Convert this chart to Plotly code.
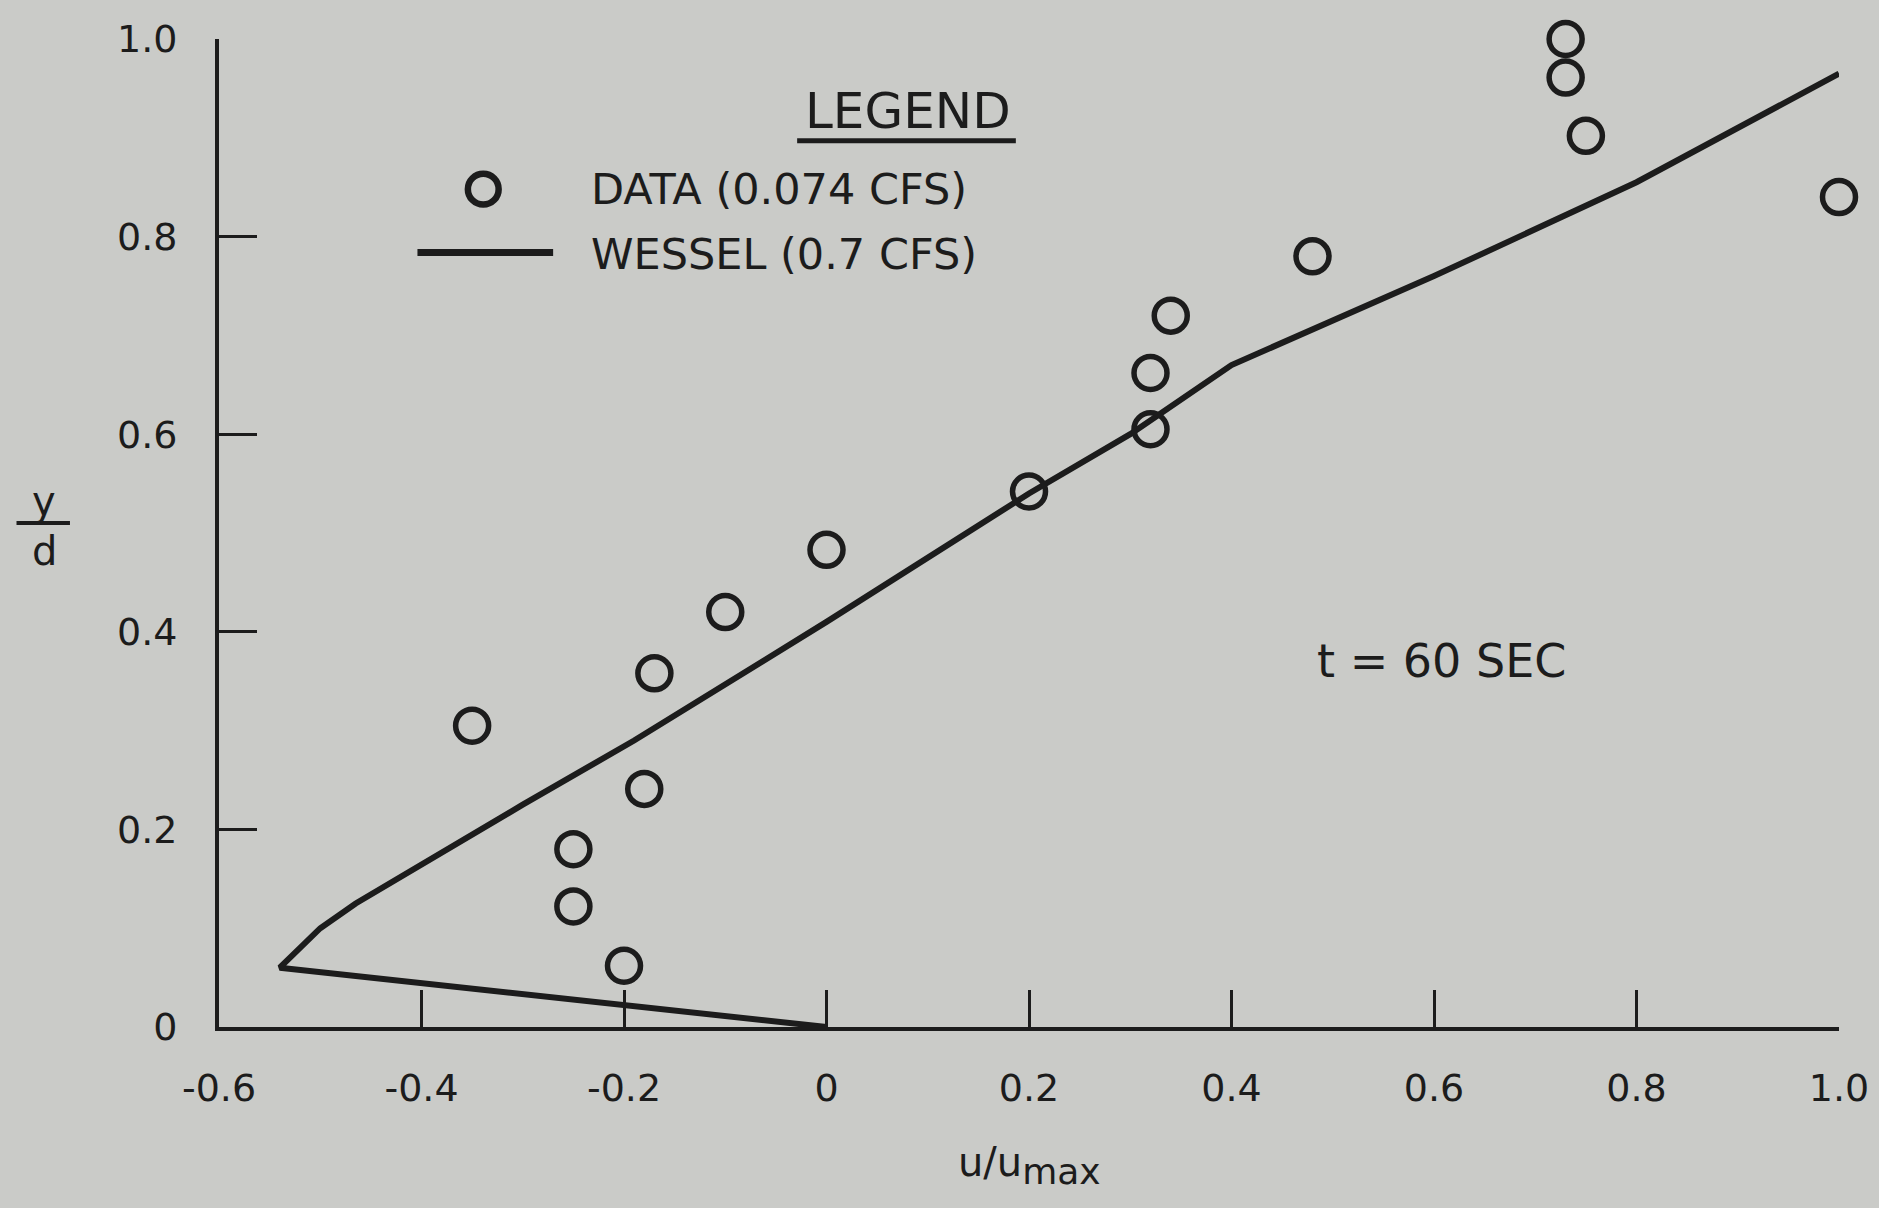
import plotly.graph_objects as go

# measured data, 0.074 cfs
u_data = [-0.35, -0.25, -0.25, -0.20, -0.18, -0.17, -0.10, 0.0, 0.20,
          0.32, 0.32, 0.34, 0.48, 0.73, 0.73, 0.75, 1.0]
yd_data = [0.305, 0.18, 0.122, 0.062, 0.241, 0.358, 0.42, 0.483, 0.542,
           0.605, 0.662, 0.72, 0.78, 1.0, 0.961, 0.902, 0.84]

# Wessel profile, 0.7 cfs
u_wessel = [0.0, -0.54, -0.50, -0.465, -0.30, -0.19, 0.0, 0.20, 0.30, 0.40, 0.60, 0.80, 1.0]
yd_wessel = [0.0, 0.06, 0.10, 0.125, 0.225, 0.29, 0.41, 0.54, 0.60, 0.67, 0.76, 0.855, 0.965]

x_ticks = [-0.6, -0.4, -0.2, 0, 0.2, 0.4, 0.6, 0.8, 1.0]
x_ticktext = ["-0.6", "-0.4", "-0.2", "0", "0.2", "0.4", "0.6", "0.8", "1.0"]
y_ticks = [0, 0.2, 0.4, 0.6, 0.8, 1.0]
y_ticktext = ["0", "0.2", "0.4", "0.6", "0.8", "1.0"]

ink = "#1c1c1c"
paper = "#cacbc8"
font = "DejaVu Sans, sans-serif"


def txt(size):
    return dict(size=size, color=ink, family=font)


fig = go.Figure()
fig.add_trace(go.Scatter(x=u_wessel, y=yd_wessel, mode="lines",
                         line=dict(color=ink, width=6), cliponaxis=False,
                         showlegend=False))
fig.add_trace(go.Scatter(x=u_data, y=yd_data, mode="markers",
                         marker=dict(symbol="circle-open", size=33, color=ink,
                                     line=dict(color=ink, width=5.5)),
                         cliponaxis=False, showlegend=False))

# hand-drawn legend like the original
fig.add_annotation(x=0.08, y=0.927, text="LEGEND", showarrow=False,
                   xanchor="center", yanchor="middle", font=txt(50))
fig.add_shape(type="line", x0=-0.029, x1=0.187, y0=0.897, y1=0.897,
              line=dict(color=ink, width=5))
fig.add_shape(type="circle", x0=-0.339 - 0.0152, x1=-0.339 + 0.0152,
              y0=0.848 - 0.0156, y1=0.848 + 0.0156, line=dict(color=ink, width=6.5))
fig.add_shape(type="line", x0=-0.404, x1=-0.270, y0=0.784, y1=0.784,
              line=dict(color=ink, width=7))
fig.add_annotation(x=-0.235, y=0.848, xanchor="left", yanchor="middle",
                   text="DATA (0.074 CFS)", showarrow=False, font=txt(43))
fig.add_annotation(x=-0.235, y=0.782, xanchor="left", yanchor="middle",
                   text="WESSEL (0.7 CFS)", showarrow=False, font=txt(43))

fig.add_annotation(x=0.607, y=0.37, text="t = 60 SEC", showarrow=False,
                   xanchor="center", yanchor="middle", font=txt(46))

# axis titles
fig.add_annotation(x=0.5006, y=-0.14, xref="paper", yref="paper",
                   xanchor="center", yanchor="middle",
                   text="u/u<sub><span style='font-size:36px'>max</span></sub>",
                   showarrow=False, font=txt(40))
fig.add_annotation(x=-0.108, y=0.532, xref="paper", yref="paper", text="y",
                   xanchor="center", yanchor="middle",
                   showarrow=False, font=txt(40))
fig.add_annotation(x=-0.108, y=0.482, xref="paper", yref="paper", text="d",
                   xanchor="center", yanchor="middle",
                   showarrow=False, font=txt(40))
fig.add_shape(type="line", xref="paper", yref="paper", x0=-0.125, x1=-0.092,
              y0=0.51, y1=0.51, line=dict(color=ink, width=4))

fig.update_layout(
    width=1879, height=1208,
    margin=dict(l=219, r=40, t=39, b=181),
    paper_bgcolor=paper, plot_bgcolor=paper,
    font=dict(family=font, color=ink, size=38),
    xaxis=dict(range=[-0.6, 1.0], tickvals=x_ticks, ticktext=x_ticktext,
               showgrid=False, zeroline=False, showline=True, linewidth=4,
               linecolor=ink, ticks="inside", ticklen=37, tickwidth=3,
               tickcolor=ink, ticklabelstandoff=24, automargin=False),
    yaxis=dict(range=[0, 1.0], tickvals=y_ticks, ticktext=y_ticktext,
               showgrid=False, zeroline=False, showline=True, linewidth=4,
               linecolor=ink, ticks="inside", ticklen=38, tickwidth=3,
               tickcolor=ink, ticklabelstandoff=30, automargin=False),
)

# drop the page's default body margin so the figure fills the window
fig.write_html("out.html", config={"displayModeBar": False},
               post_script="document.body.style.margin='0';")
